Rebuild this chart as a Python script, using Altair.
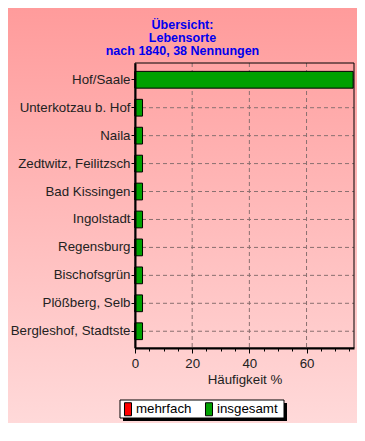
import altair as alt
import pandas as pd

places = ["Hof/Saale", "Unterkotzau b. Hof", "Naila", "Zedtwitz, Feilitzsch",
          "Bad Kissingen", "Ingolstadt", "Regensburg", "Bischofsgrün",
          "Plößberg, Selb", "Bergleshof, Stadtste"]
insgesamt = [76.3, 2.63, 2.63, 2.63, 2.63, 2.63, 2.63, 2.63, 2.63, 2.63]
mehrfach = [0, 0, 0, 0, 0, 0, 0, 0, 0, 0]
series = ["mehrfach", "insgesamt"]
series_colors = ["#ff0000", "#00a000"]
x_grid = [20, 40, 60]
x_ticks = [0, 5, 10, 15, 20, 25, 30, 35, 40, 45, 50, 55, 60, 65, 70, 75]
x_max = 76.6
title_lines = ["Übersicht:", "Lebensorte", "nach 1840, 38 Nennungen"]
x_title = "Häufigkeit %"

W, H = 219, 285
FONT = "Liberation Sans"
FS = 13.3

df = pd.DataFrame({
    "ort": places * 2,
    "serie": ["insgesamt"] * len(places) + ["mehrfach"] * len(places),
    "wert": insgesamt + mehrfach,
})

xscale = alt.Scale(domain=[0, x_max], nice=False, zero=True)
yscale = alt.Scale(domain=places, paddingInner=0.4, paddingOuter=0.3)

xaxis = alt.Axis(
    values=x_ticks,
    tickSize={"condition": {"test": "datum.value % 20 === 0", "value": 5}, "value": 3},
    labelExpr="datum.value % 20 === 0 ? datum.label : ''",
    labelOverlap=False, labelFlush=False, grid=False,
    domainColor="black", domainWidth=2, tickColor="black",
    labelFont=FONT, labelFontSize=FS, labelColor="#222222", labelPadding=3,
    titleFont=FONT, titleFontSize=FS, titleFontWeight="normal", titleColor="#222222",
    titlePadding=3, zindex=1,
)
yaxis = alt.Axis(
    title=None, grid=False, tickSize=4, domainColor="black", domainWidth=2,
    tickColor="black", labelFont=FONT, labelFontSize=FS, labelColor="#222222",
    labelPadding=1, labelLimit=300, zindex=1,
)

X = alt.X("wert:Q", scale=xscale, axis=xaxis, title=x_title)
Y = alt.Y("ort:N", scale=yscale, axis=yaxis, sort=places)

grad = alt.LinearGradient(
    gradient="linear",
    stops=[alt.GradientStop(color="#ff9a9a", offset=0),
           alt.GradientStop(color="#ffdcdc", offset=1)],
    x1=0, x2=0, y1=0, y2=1,
)

one = pd.DataFrame({"k": [0]})

bg = alt.Chart(one).mark_rect(fill=grad, strokeWidth=0).encode(
    x=alt.value(-135), x2=alt.value(230), y=alt.value(-63), y2=alt.value(378)
)

vgrid = alt.Chart(pd.DataFrame({"wert": x_grid})).mark_rule(
    color="#8a7070", strokeDash=[4, 3], strokeWidth=1
).encode(x=X, y=alt.value(0), y2=alt.value(H))

hgrid = alt.Chart(pd.DataFrame({"ort": places})).mark_rule(
    color="#8a7070", strokeDash=[4, 3], strokeWidth=1
).encode(y=Y, x=alt.value(0), x2=alt.value(W))

bars = alt.Chart(df).mark_bar(stroke="black", strokeWidth=1, opacity=1).encode(
    x=X.stack(None),
    y=Y,
    color=alt.Color(
        "serie:N",
        scale=alt.Scale(domain=series, range=series_colors),
        legend=alt.Legend(
            title=None, orient="none", legendX=-14, legendY=339,
            direction="horizontal",
            symbolType="M-0.54,-1H0.54V1H-0.54Z", symbolSize=169,
            symbolStrokeColor="black", symbolStrokeWidth=1, symbolOpacity=1,
            labelFont=FONT, labelFontSize=FS, labelColor="black",
            labelOffset=1, columnPadding=10, padding=0, zindex=1,
        ),
    ),
)

frame = alt.Chart(one).mark_rect(fillOpacity=0, stroke="black", strokeWidth=1).encode(
    x=alt.value(0), x2=alt.value(W), y=alt.value(0), y2=alt.value(H)
)

shadow = alt.Chart(one).mark_rect(fill="black").encode(
    x=alt.value(-12), x2=alt.value(152), y=alt.value(340), y2=alt.value(358)
)
box = alt.Chart(one).mark_rect(fill="white", stroke="black", strokeWidth=1).encode(
    x=alt.value(-15), x2=alt.value(149), y=alt.value(337), y2=alt.value(355)
)

chart = alt.layer(bg, vgrid, hgrid, bars, frame, shadow, box).properties(
    width=W, height=H,
    title=alt.TitleParams(
        text=title_lines, font=FONT, fontSize=12.5, fontWeight="bold",
        color="#0000ee", anchor="middle", dx=-62, dy=66, offset=9,
        lineHeight=13, zindex=1,
    ),
    autosize=alt.AutoSizeParams(type="none"),
    padding={"left": 127, "top": 55, "right": 3, "bottom": 75},
).configure_view(stroke=None).configure(background="white")

chart.save("out.html", embed_options={"renderer": "svg", "actions": False})
